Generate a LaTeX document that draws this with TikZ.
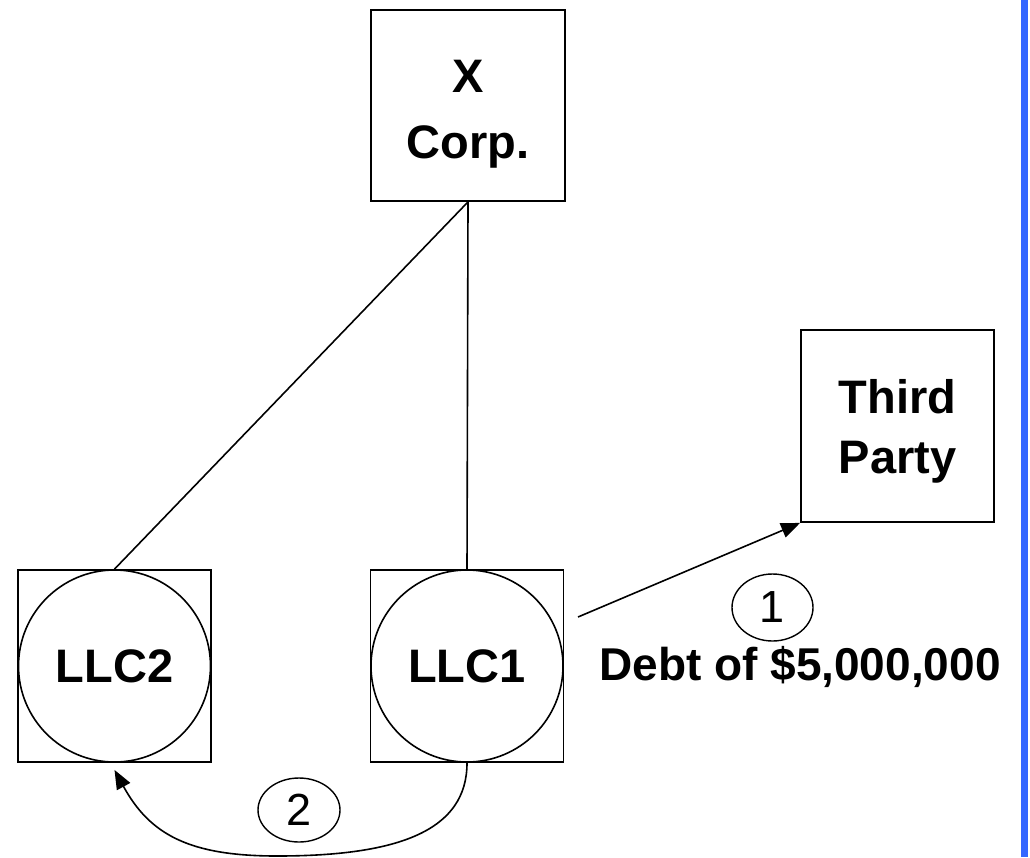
\documentclass[tikz,border=0pt]{standalone}
\usepackage{fontspec}
\setmainfont{Liberation Sans}
\usetikzlibrary{arrows.meta,shapes.geometric}
\definecolor{band}{HTML}{3366FF}
\begin{document}
\begin{tikzpicture}[x=1pt,y=-1pt,
  every node/.style={inner sep=0pt},
  box/.style={draw, line width=1.8pt, minimum width=193pt, minimum height=192pt},
  entity/.style={draw, circle, line width=1.6pt, minimum size=192pt,
    font=\fontsize{47}{56}\selectfont\bfseries},
  lbl/.style={align=center},
  stepmark/.style={draw, ellipse, line width=1.4pt,
    font=\fontsize{45}{50}\selectfont},
  link/.style={line width=1.6pt},
  flow/.style={line width=1.6pt, -{Triangle[length=19pt,width=15pt]}}
]
\useasboundingbox (0,0) rectangle (1030,857);
% side band
\fill[band] (1021,0) rectangle (1028,857);

% parent corporation
\node[box, minimum width=194pt, minimum height=191pt] (xc) at (468,105.5) {};
\node[lbl, font=\fontsize{47}{66}\selectfont\bfseries] (xct) at (468,114) {X\\Corp.};

% third party
\node[box] (tp) at (897.5,426) {};
\node[lbl, font=\fontsize{47}{60}\selectfont\bfseries] (tpt) at (897.5,431) {Third\\Party};

% subsidiaries
\node[box] (l2box) at (114.5,666) {};
\node[entity] (l2) at (l2box) {LLC2};
\node[box] (l1box) at (467,666) {};
\node[entity] (l1) at (l1box) {LLC1};

% ownership lines
\draw[link] (xc.south) -- (l2box.north);
\draw[link] (xc.south) -- (l1box.north);

% step 1: borrowing from the third party
\coordinate (a1) at (578,617);
\draw[flow] (a1) -- (tp.south west);
\node[stepmark, minimum width=81pt, minimum height=67pt] (s1) at (772.5,607.5) {1};
\node[anchor=base, font=\fontsize{46}{56}\selectfont\bfseries] (debt) at (800,680) {Debt of \$5,000,000};

% step 2: transfer to LLC2
\draw[flow] (l1box.south) .. controls (467,830) and (400,856) .. (277,856)
  .. controls (190,856) and (150,835) .. ([yshift=-7pt]l2box.south);
\node[stepmark, minimum width=82pt, minimum height=64pt] (s2) at (299,810) {2};
\end{tikzpicture}
\end{document}
